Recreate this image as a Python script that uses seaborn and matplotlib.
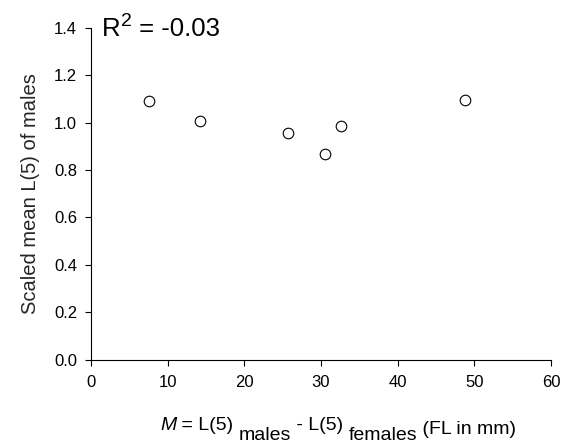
import matplotlib
matplotlib.use("Agg")
import matplotlib.pyplot as plt
import seaborn as sns
import pandas as pd

# Data
m_diff = [7.5, 14.2, 25.7, 30.5, 32.6, 48.8]
scaled_l5 = [1.09, 1.008, 0.957, 0.867, 0.985, 1.098]
x_ticks = [0, 10, 20, 30, 40, 50, 60]
y_ticks = [0.0, 0.2, 0.4, 0.6, 0.8, 1.0, 1.2, 1.4]
r2_text = "-0.03"

sns.set_style("ticks")
plt.rcParams['font.family'] = ['Liberation Sans', 'DejaVu Sans']

W, H = 564, 444
fig = plt.figure(figsize=(W / 100, H / 100), dpi=100)
ax = fig.add_axes([91 / W, 1 - 359.5 / H, (551 - 91) / W, (359.5 - 28) / H])

df = pd.DataFrame({"x": m_diff, "y": scaled_l5})
sns.scatterplot(data=df, x="x", y="y", ax=ax, s=58, facecolor="white",
                edgecolor="black", linewidth=0.8, zorder=3, clip_on=False)

ax.set_xlim(0, 60)
ax.set_ylim(0, 1.4)
ax.set_xticks(x_ticks)
ax.set_xticklabels([str(t) for t in x_ticks])
ax.set_yticks(y_ticks)
ax.set_yticklabels([f"{t:.1f}" for t in y_ticks])
ax.tick_params(axis="both", direction="out", length=4, width=0.8,
               labelsize=12, color="black", labelcolor="black")
ax.tick_params(axis="x", pad=7)
ax.tick_params(axis="y", pad=6)
for side in ["top", "right"]:
    ax.spines[side].set_visible(False)
for side in ["left", "bottom"]:
    ax.spines[side].set_linewidth(0.8)
    ax.spines[side].set_color("black")

ax.set_xlabel("")
ax.set_ylabel("Scaled mean L(5) of males", fontsize=14.5, labelpad=10)

renderer = fig.canvas.get_renderer()


def draw_pieces(x0, y0, pieces):
    """Draw text pieces sequentially; coordinates in pixels (y from top)."""
    x = x0
    for txt, size, dy, style in pieces:
        t = fig.text(x / W, 1 - (y0 + dy) / H, txt, fontsize=size,
                     fontstyle=style, ha="left", va="baseline",
                     color="black")
        bb = t.get_window_extent(renderer=renderer)
        x += bb.width


# x label with lowered subscripts
draw_pieces(160, 429.5, [
    ("M", 14, 0, "italic"),
    (" = L(5) ", 14, 0, "normal"),
    ("males", 14, 10.5, "normal"),
    (" - L(5) ", 14, 0, "normal"),
    ("females", 14, 10.5, "normal"),
    (" (FL in mm)", 14, 4, "normal"),
])

# R^2 annotation
draw_pieces(102, 36.5, [
    ("R", 18.5, 0, "normal"),
    ("2", 14, -11, "normal"),
    (" = " + r2_text, 18.5, 0, "normal"),
])

fig.savefig("out.png", dpi=100)
